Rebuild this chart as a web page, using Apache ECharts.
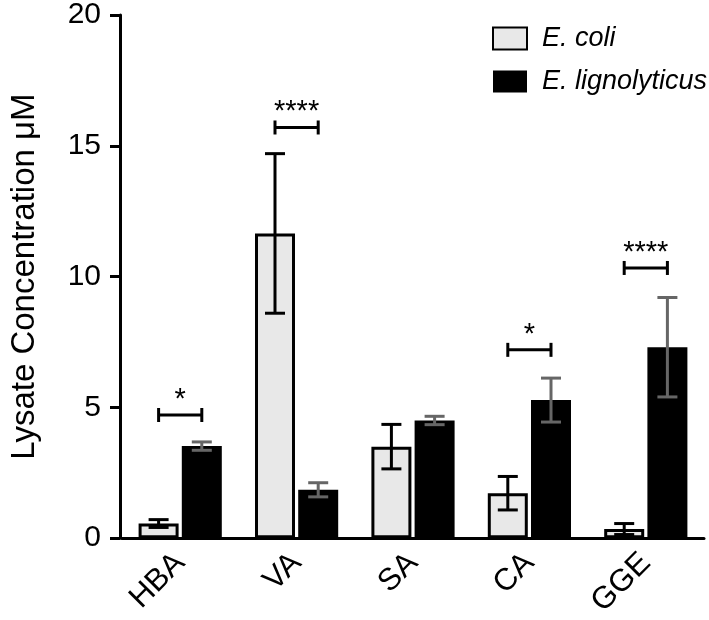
<!DOCTYPE html>
<html>
<head>
<meta charset="utf-8">
<script src="https://cdn.jsdelivr.net/npm/echarts@6/dist/echarts.min.js"></script>
<style>
html,body{margin:0;padding:0;background:#fff;}
#chart{width:709px;height:620px;}
</style>
</head>
<body>
<div id="chart"></div>
<script>
var categories = ['HBA', 'VA', 'SA', 'CA', 'GGE'];
var seriesNames = ['E. coli', 'E. lignolyticus'];
var ecoliMean = [0.56, 11.65, 3.5, 1.72, 0.35];
var ecoliErr = [0.15, 3.05, 0.85, 0.64, 0.21];
var eligMean = [3.52, 1.85, 4.5, 5.28, 7.3];
var eligErr = [0.16, 0.27, 0.16, 0.84, 1.9];
var bracketY = [4.71, 15.7, null, 7.2, 10.33];
var sigLabels = ['*', '****', '', '*', '****'];
var yMin = 0, yMax = 20, yInterval = 5;

var FONT = 'Liberation Sans, Arial, sans-serif';
var BAR_W = 40;
var BAR_GAP = 0.08;
var HALF = (BAR_W + BAR_W * BAR_GAP) / 2;

function errData(means, errs) {
  return means.map(function (m, i) { return [i, m, errs[i]]; });
}
function errRender(side, color) {
  return function (params, api) {
    var i = api.value(0), m = api.value(1), e = api.value(2);
    var top = api.coord([i, m + e]);
    var bot = api.coord([i, m - e]);
    var x = top[0] + side * HALF;
    var cap = 10;
    var st = { stroke: color, lineWidth: 3 };
    return {
      type: 'group',
      children: [
        { type: 'line', shape: { x1: x, y1: top[1], x2: x, y2: bot[1] }, style: st },
        { type: 'line', shape: { x1: x - cap, y1: top[1], x2: x + cap, y2: top[1] }, style: st },
        { type: 'line', shape: { x1: x - cap, y1: bot[1], x2: x + cap, y2: bot[1] }, style: st }
      ]
    };
  };
}
var bracketData = [];
bracketY.forEach(function (y, i) { if (y !== null) bracketData.push([i, y, i]); });

var chart = echarts.init(document.getElementById('chart'), null, { renderer: 'canvas' });
chart.setOption({
  animation: false,
  backgroundColor: '#fff',
  textStyle: { fontFamily: FONT },
  grid: { left: 116, right: 5, top: 13, bottom: 77.5, containLabel: false },
  legend: {
    orient: 'vertical',
    left: 492,
    top: 25,
    padding: 0,
    itemWidth: 34,
    itemHeight: 22,
    itemGap: 16,
    icon: 'rect',
    textStyle: { fontSize: 27, fontStyle: 'italic', color: '#000', fontFamily: FONT, padding: [0, 0, 0, 10] },
    data: seriesNames
  },
  xAxis: {
    type: 'category',
    data: categories,
    axisLine: { lineStyle: { color: '#000', width: 3 } },
    axisTick: { alignWithLabel: true, length: 11, lineStyle: { color: '#000', width: 3 } },
    axisLabel: { rotate: 45, fontSize: 31, color: '#000', margin: 20, fontFamily: FONT }
  },
  yAxis: {
    type: 'value',
    min: yMin, max: yMax, interval: yInterval,
    offset: 2,
    name: 'Lysate Concentration μM',
    nameLocation: 'middle',
    nameGap: 79,
    nameTextStyle: { fontSize: 33, color: '#000', fontFamily: FONT },
    splitLine: { show: false },
    axisLine: { show: true, lineStyle: { color: '#000', width: 3 } },
    axisTick: { show: true, length: 10, lineStyle: { color: '#000', width: 3 } },
    axisLabel: { fontSize: 30, color: '#000', margin: 19, fontFamily: FONT }
  },
  series: [
    {
      name: seriesNames[0], type: 'bar', data: ecoliMean,
      barWidth: BAR_W, barGap: (BAR_GAP * 100) + '%',
      itemStyle: { color: '#e8e8e8', borderColor: '#000', borderWidth: 3 }
    },
    {
      name: seriesNames[1], type: 'bar', data: eligMean,
      barWidth: BAR_W,
      itemStyle: { color: '#000' }
    },
    {
      type: 'custom', data: errData(ecoliMean, ecoliErr), z: 5,
      renderItem: errRender(-1, '#000'), encode: { x: 0, y: 1 }
    },
    {
      type: 'custom', data: errData(eligMean, eligErr), z: 5,
      renderItem: errRender(1, '#666'), encode: { x: 0, y: 1 }
    },
    {
      type: 'custom', data: bracketData, z: 6,
      encode: { x: 0, y: 1 },
      renderItem: function (params, api) {
        var i = api.value(0), y = api.value(1);
        var p = api.coord([i, y]);
        var x1 = p[0] - HALF, x2 = p[0] + HALF;
        var st = { stroke: '#000', lineWidth: 3 };
        return {
          type: 'group',
          children: [
            { type: 'line', shape: { x1: x1, y1: p[1], x2: x2, y2: p[1] }, style: st },
            { type: 'line', shape: { x1: x1, y1: p[1] - 7, x2: x1, y2: p[1] + 7 }, style: st },
            { type: 'line', shape: { x1: x2, y1: p[1] - 7, x2: x2, y2: p[1] + 7 }, style: st },
            { type: 'text', style: { x: p[0], y: p[1] - 15, text: sigLabels[i], fill: '#000', font: '29px ' + FONT, align: 'center', verticalAlign: 'middle' } }
          ]
        };
      }
    }
  ]
});
</script>
</body>
</html>
